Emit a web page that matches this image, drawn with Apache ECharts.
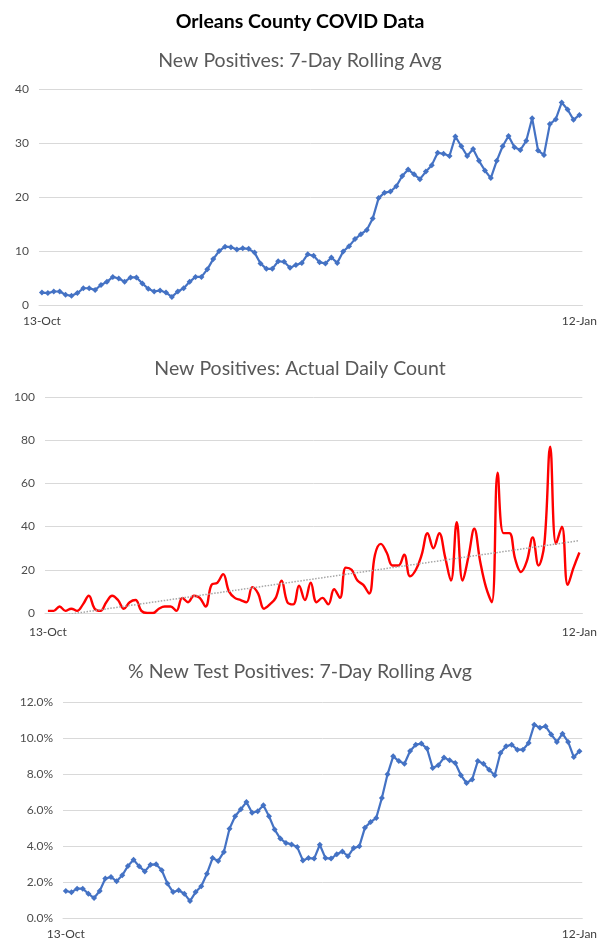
<!DOCTYPE html>
<html>
<head>
<meta charset="utf-8">
<script src="https://cdn.jsdelivr.net/npm/echarts@6/dist/echarts.min.js"></script>
<style>html,body{margin:0;padding:0;background:#fff}#c{width:600px;height:942px}</style>
</head>
<body>
<div id="c"></div>
<script>
const categories = [
"13-Oct","14-Oct","15-Oct","16-Oct","17-Oct","18-Oct","19-Oct","20-Oct","21-Oct","22-Oct","23-Oct","24-Oct","25-Oct","26-Oct","27-Oct","28-Oct","29-Oct","30-Oct","31-Oct",
"1-Nov","2-Nov","3-Nov","4-Nov","5-Nov","6-Nov","7-Nov","8-Nov","9-Nov","10-Nov","11-Nov","12-Nov","13-Nov","14-Nov","15-Nov","16-Nov","17-Nov","18-Nov","19-Nov","20-Nov","21-Nov","22-Nov","23-Nov","24-Nov","25-Nov","26-Nov","27-Nov","28-Nov","29-Nov","30-Nov",
"1-Dec","2-Dec","3-Dec","4-Dec","5-Dec","6-Dec","7-Dec","8-Dec","9-Dec","10-Dec","11-Dec","12-Dec","13-Dec","14-Dec","15-Dec","16-Dec","17-Dec","18-Dec","19-Dec","20-Dec","21-Dec","22-Dec","23-Dec","24-Dec","25-Dec","26-Dec","27-Dec","28-Dec","29-Dec","30-Dec","31-Dec",
"1-Jan","2-Jan","3-Jan","4-Jan","5-Jan","6-Jan","7-Jan","8-Jan","9-Jan","10-Jan","11-Jan","12-Jan"];

const rollingAvg = [
2.3,2.2,2.5,2.5,1.9,1.7,2.2,3.1,3.1,2.8,3.7,4.3,5.2,4.9,4.3,5.1,5.1,4.0,3.0,2.5,2.7,2.3,1.5,2.5,3.1,4.3,5.2,5.2,6.6,8.5,
10.0,10.8,10.7,10.3,10.5,10.4,9.7,7.7,6.7,6.7,8.1,8.0,6.9,7.4,7.8,9.4,9.1,7.9,7.7,8.8,7.8,9.9,10.9,12.2,13.1,13.9,16.0,19.8,20.8,21.0,
22.0,23.9,25.1,24.2,23.3,24.7,25.9,28.2,28.0,27.6,31.2,29.4,27.6,28.9,26.7,24.9,23.5,26.7,29.4,31.3,29.2,28.7,30.4,34.6,28.6,27.8,33.5,34.4,37.5,36.2,
34.3,35.2];

const dailyCount = [
1,1,3,1,2,1,4,8,2,1,5,8,6,2,5,6,1,0,0,2,3,3,1,7,5,8,7,3,13,14,
18,10,7,6,5,12,9,2,4,7,15,5,4,12.6,6,14,5,7,4,11,7,21,20,15,13,9,27,32,28,22,
22,27,17,20,27,37,30,37,26,15,42,15,26,39,24,12,5,65,37,37,25,19,24,35,22,32,77,32,40,13,
21,28];

// dotted linear trendline, read at first and last day
const trendEnds = [-2.0, 33.5];

const pctPositive = [
1.50,1.43,1.63,1.63,1.35,1.11,1.50,2.19,2.28,2.04,2.37,2.89,3.24,2.87,2.59,2.96,2.98,2.65,1.91,1.44,1.54,1.35,0.94,1.44,1.76,2.46,3.33,3.17,3.67,4.96,
5.65,6.04,6.44,5.85,5.93,6.26,5.65,4.91,4.41,4.17,4.09,3.94,3.20,3.33,3.30,4.07,3.33,3.30,3.54,3.70,3.43,3.89,3.98,5.02,5.33,5.56,6.67,7.98,8.98,8.72,
8.57,9.28,9.63,9.69,9.41,8.33,8.48,8.91,8.76,8.61,7.93,7.50,7.70,8.72,8.57,8.24,7.93,9.17,9.54,9.63,9.35,9.35,9.72,10.74,10.57,10.65,10.20,9.78,10.24,9.78,
8.94,9.26];

const yTicks1 = {min:0, max:40, interval:10};
const yTicks2 = {min:0, max:100, interval:20};
const yTicks3 = {min:0, max:12, interval:2};

const FONT = 'Lato, "Open Sans", sans-serif';
const last = categories.length - 1;
const blue = '#4472C4';
const gridColor = '#d9d9d9';

function xAxis(gi, margin){
  return {
    type:'category', gridIndex:gi, data:categories, boundaryGap:true,
    axisLine:{show:true, lineStyle:{color:gridColor}},
    axisTick:{show:false},
    axisLabel:{
      interval:(i)=> i===0 || i===last,
      color:'#404040', fontSize:12, fontFamily:FONT, margin:margin, hideOverlap:false
    }
  };
}
function yAxis(gi, t, fmt){
  return {
    type:'value', gridIndex:gi, min:t.min, max:t.max, interval:t.interval,
    axisLine:{show:false}, axisTick:{show:false},
    splitLine:{lineStyle:{color:gridColor, width:1}},
    axisLabel:{color:'#4d4d4d', fontSize:12, fontFamily:FONT, margin:10, formatter:fmt}
  };
}

const chart = echarts.init(document.getElementById('c'), null, {renderer:'canvas'});
chart.setOption({
  animation:false,
  backgroundColor:'#fff',
  title:[
    {text:'Orleans County COVID Data', left:'center', top:7,
     textStyle:{fontFamily:FONT, fontWeight:'bold', fontSize:19.5, color:'#000'}},
    {text:'New Positives: 7-Day Rolling Avg', left:'center', top:46,
     textStyle:{fontFamily:FONT, fontWeight:'normal', fontSize:19.5, color:'#595959'}},
    {text:'New Positives: Actual Daily Count', left:'center', top:354,
     textStyle:{fontFamily:FONT, fontWeight:'normal', fontSize:19.5, color:'#595959'}},
    {text:'% New Test Positives: 7-Day Rolling Avg', left:'center', top:657,
     textStyle:{fontFamily:FONT, fontWeight:'normal', fontSize:19.5, color:'#595959'}}
  ],
  grid:[
    {left:39, right:15, top:89, height:216},
    {left:45, right:15, top:397, height:216},
    {left:63, right:11, top:702, height:216}
  ],
  xAxis:[xAxis(0,10), xAxis(1,13), xAxis(2,10)],
  yAxis:[
    yAxis(0, yTicks1, (v)=>String(v)),
    yAxis(1, yTicks2, (v)=>String(v)),
    yAxis(2, yTicks3, (v)=>v.toFixed(1)+'%')
  ],
  series:[
    {type:'line', xAxisIndex:0, yAxisIndex:0, data:rollingAvg,
     symbol:'diamond', symbolSize:6, showSymbol:true, showAllSymbol:true,
     lineStyle:{color:blue, width:2.2}, itemStyle:{color:blue}},
    {type:'line', xAxisIndex:1, yAxisIndex:1, data:dailyCount,
     smooth:0.4, symbol:'none', lineStyle:{color:'#FF0000', width:2.4}, itemStyle:{color:'#FF0000'}, z:3},
    {type:'line', xAxisIndex:1, yAxisIndex:1, clip:true,
     data:[[categories[0], trendEnds[0]], [categories[last], trendEnds[1]]],
     symbol:'none', lineStyle:{color:'#a6a6a6', width:1.5, type:'dotted'}, z:4},
    {type:'line', xAxisIndex:2, yAxisIndex:2, data:pctPositive,
     symbol:'diamond', symbolSize:6, showSymbol:true, showAllSymbol:true,
     lineStyle:{color:blue, width:2.2}, itemStyle:{color:blue}}
  ]
});
</script>
</body>
</html>
